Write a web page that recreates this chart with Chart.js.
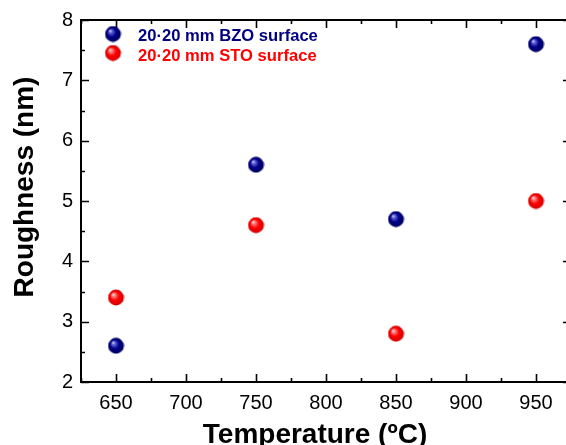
<!DOCTYPE html>
<html>
<head>
<meta charset="utf-8">
<script src="https://cdn.jsdelivr.net/npm/chart.js@4.4.0/dist/chart.umd.min.js"></script>
<style>
  html, body { margin: 0; padding: 0; background: #fff; overflow: hidden; }
  #wrap { width: 580px; height: 445px; }
</style>
</head>
<body>
<div id="wrap"><canvas id="roughChart" width="580" height="445"></canvas></div>
<script>
// Roughness vs. growth temperature for the two substrates
const temperatures = [650, 750, 850, 950];
const bzoRoughness = [2.6, 5.6, 4.7, 7.6];
const stoRoughness = [3.4, 4.6, 2.8, 5.0];
const xTickValues = [650, 700, 750, 800, 850, 900, 950];
const yTickValues = [2, 3, 4, 5, 6, 7, 8];

const FONT = '"Liberation Sans", Arial, sans-serif';

// shaded ball marker used for points and legend
function makeBall(base, light, dark) {
    const size = 17, r = 7.9;
    const c = document.createElement('canvas');
    c.width = size; c.height = size;
    const g = c.getContext('2d');
    const cx = size / 2, cy = size / 2;
    const grad = g.createRadialGradient(cx - r * 0.38, cy - r * 0.42, 0, cx, cy, r);
    grad.addColorStop(0, '#ffffff');
    grad.addColorStop(0.18, light);
    grad.addColorStop(0.55, base);
    grad.addColorStop(1, dark);
    g.fillStyle = grad;
    g.beginPath();
    g.arc(cx, cy, r, 0, Math.PI * 2);
    g.fill();
    return c;
}

const blueBall = makeBall('#000088', '#7070e0', '#000060');
const redBall = makeBall('#ff0000', '#ff9090', '#d00000');

// frame, inward ticks, axis titles and legend
const framePlugin = {
    id: 'frame',
    afterDraw(chart) {
        const ctx = chart.ctx;
        const a = chart.chartArea;
        const xs = chart.scales.x, ys = chart.scales.y;
        ctx.save();
        ctx.strokeStyle = '#000';
        ctx.lineWidth = 2;
        ctx.strokeRect(a.left, a.top, a.right - a.left, a.bottom - a.top);

        ctx.lineWidth = 1.6;
        ctx.beginPath();
        for (let v = xs.min; v <= xs.max; v += 25) {
            const px = Math.round(xs.getPixelForValue(v)) + 0.5;
            const len = v % 50 === 0 ? 8 : 4;
            ctx.moveTo(px, a.bottom); ctx.lineTo(px, a.bottom - len);
            ctx.moveTo(px, a.top); ctx.lineTo(px, a.top + len);
        }
        for (let v = ys.min; v <= ys.max + 1e-9; v += 0.5) {
            const py = Math.round(ys.getPixelForValue(v)) + 0.5;
            const len = Math.abs(v % 1) < 1e-9 ? 8 : 4;
            ctx.moveTo(a.left, py); ctx.lineTo(a.left + len, py);
            ctx.moveTo(a.right, py); ctx.lineTo(a.right - len, py);
        }
        ctx.stroke();

        // axis titles
        ctx.fillStyle = '#000';
        ctx.font = 'bold 28px ' + FONT;
        ctx.textAlign = 'center';
        ctx.textBaseline = 'alphabetic';
        ctx.fillText('Temperature (\u00baC)', 315, 443);
        ctx.save();
        ctx.translate(33, 187);
        ctx.rotate(-Math.PI / 2);
        ctx.fillText('Roughness (nm)', 0, 0);
        ctx.restore();

        // legend
        ctx.font = 'bold 16.6px ' + FONT;
        ctx.textAlign = 'left';
        chart.data.datasets.forEach((ds, i) => {
            const cy = 34 + i * 19;
            const img = ds.pointStyle;
            ctx.drawImage(img, 113 - img.width / 2, cy - img.height / 2);
            ctx.fillStyle = ds.labelColor;
            ctx.fillText(ds.label, 138, 41 + i * 19.5);
        });
        ctx.restore();
    }
};

new Chart(document.getElementById('roughChart'), {
    type: 'scatter',
    data: {
        datasets: [
            {
                label: '20\u00b720 mm BZO surface',
                data: temperatures.map((t, i) => ({ x: t, y: bzoRoughness[i] })),
                pointStyle: blueBall,
                labelColor: '#000080'
            },
            {
                label: '20\u00b720 mm STO surface',
                data: temperatures.map((t, i) => ({ x: t, y: stoRoughness[i] })),
                pointStyle: redBall,
                labelColor: '#ff0000'
            }
        ]
    },
    options: {
        responsive: false,
        animation: false,
        layout: { padding: { top: 20, right: 9, left: 0, bottom: 0 } },
        plugins: {
            legend: { display: false },
            tooltip: { enabled: false }
        },
        scales: {
            x: {
                type: 'linear',
                min: 625,
                max: 975,
                afterBuildTicks: s => { s.ticks = xTickValues.map(v => ({ value: v })); },
                afterFit: s => { s.height = 63; },
                grid: { display: false, drawTicks: false },
                border: { display: false },
                ticks: {
                    padding: 9,
                    color: '#000',
                    font: { family: FONT, size: 20 },
                    maxRotation: 0
                }
            },
            y: {
                min: 2,
                max: 8,
                afterBuildTicks: s => { s.ticks = yTickValues.map(v => ({ value: v })); },
                afterFit: s => { s.width = 81; },
                grid: { display: false, drawTicks: false },
                border: { display: false },
                ticks: {
                    padding: 8,
                    color: '#000',
                    font: { family: FONT, size: 20 }
                }
            }
        }
    },
    plugins: [framePlugin]
});
</script>
</body>
</html>
